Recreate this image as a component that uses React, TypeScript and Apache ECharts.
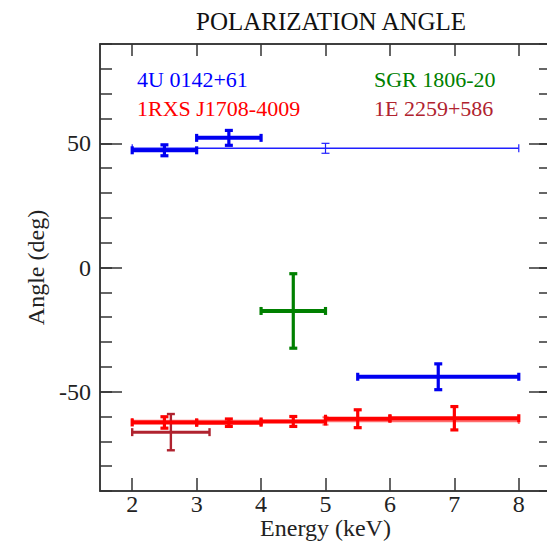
import React, { useEffect, useRef } from 'react';
import * as echarts from 'echarts';

const TITLE = 'POLARIZATION ANGLE';
const X_NAME = 'Energy (keV)';
const Y_NAME = 'Angle (deg)';
const X_TICKS = [2, 3, 4, 5, 6, 7, 8];
const Y_MAJOR = [-50, 0, 50];

// rows: [xLow, xHigh, xCenter, angle, angleError]
const NAME_4U = '4U 0142+61';
const BINS_4U = [
  [2, 3, 2.5, 47.2, 2.2],
  [3, 4, 3.5, 52.2, 3.0],
  [5.5, 8, 6.75, -44.0, 5.2],
];
const WIDE_4U = [[2, 8, 5, 48.0, 2.0]];

const NAME_1RXS = '1RXS J1708-4009';
const BINS_1RXS = [
  [2, 3, 2.5, -62.4, 2.3],
  [3, 4, 3.5, -62.5, 1.5],
  [4, 5, 4.5, -62.0, 2.0],
  [5, 6, 5.5, -60.9, 3.6],
  [6, 8, 7, -60.7, 4.7],
];
const WIDE_1RXS = [[2, 8, 5, -61.8, 1.5]];

const NAME_SGR = 'SGR 1806-20';
const BINS_SGR = [[4, 5, 4.5, -17.5, 15.0]];

const NAME_1E = '1E 2259+586';
const BINS_1E = [[2, 3.2, 2.6, -66.3, 7.3]];

const FONT = '"Liberation Serif", "DejaVu Serif", serif';

function errSeries(name: string, data: number[][], color: string, lw: number, cap: number, z: number, opacity = 1) {
  return {
    type: 'custom',
    name,
    z,
    xAxisIndex: 0,
    yAxisIndex: 0,
    data,
    encode: { x: [0, 1, 2], y: [3] },
    renderItem: (params: any, api: any) => {
      const xl = api.value(0), xh = api.value(1), xc = api.value(2), y = api.value(3), e = api.value(4);
      const pL = api.coord([xl, y]);
      const pR = api.coord([xh, y]);
      const pT = api.coord([xc, y + e]);
      const pB = api.coord([xc, y - e]);
      const st = { stroke: color, lineWidth: lw, opacity };
      const capSt = { stroke: color, lineWidth: Math.max(lw * 0.8, 1.2), opacity };
      const ln = (x1: number, y1: number, x2: number, y2: number, s: any) => ({ type: 'line', shape: { x1, y1, x2, y2 }, style: s });
      return {
        type: 'group',
        children: [
          ln(pL[0], pL[1], pR[0], pR[1], st),
          ln(pT[0], pT[1], pB[0], pB[1], { ...st, lineWidth: Math.max(lw * 0.8, 1.2) }),
          ln(pL[0], pL[1] - cap, pL[0], pL[1] + cap, capSt),
          ln(pR[0], pR[1] - cap, pR[0], pR[1] + cap, capSt),
          ln(pT[0] - cap, pT[1], pT[0] + cap, pT[1], capSt),
          ln(pB[0] - cap, pB[1], pB[0] + cap, pB[1], capSt),
        ],
      };
    },
  };
}

export default function App() {
  const ref = useRef<HTMLDivElement>(null);
  useEffect(() => {
    if (!ref.current) return;
    const chart = echarts.init(ref.current, null, { renderer: 'svg' });
    const minorY = (pos: string) => ({
      type: 'value', position: pos, min: -90, max: 90, interval: 10,
      axisLine: { show: true, onZero: false, lineStyle: { color: '#333', width: 1.5 } },
      axisTick: { show: true, inside: true, length: 12, lineStyle: { color: '#333', width: 1.5 } },
      axisLabel: { show: false },
      splitLine: { show: false },
    });
    const majorY = (pos: string, labels: boolean) => ({
      type: 'value', position: pos, min: -90, max: 90,
      axisLine: { show: false, onZero: false },
      axisTick: { show: true, inside: true, length: 22, customValues: Y_MAJOR, lineStyle: { color: '#333', width: 1.5 } },
      axisLabel: { show: labels, customValues: Y_MAJOR, margin: 9, fontSize: 24, fontFamily: FONT, color: '#222' },
      splitLine: { show: false },
      ...(labels ? { name: Y_NAME, nameLocation: 'middle', nameGap: 52, nameMoveOverlap: false, nameTextStyle: { fontSize: 24, fontFamily: FONT, color: '#222' } } : {}),
    });
    chart.setOption({
      animation: false,
      backgroundColor: '#fff',
      title: {
        text: TITLE, left: 191, top: 4,
        textStyle: { fontSize: 25, fontWeight: 'normal', fontFamily: FONT, color: '#111' },
      },
      grid: {
        left: 100, top: 44, right: -4, bottom: 50, show: true, borderColor: '#333', borderWidth: 1.5,
        containLabel: false, outerBoundsMode: 'none',
      },
      xAxis: [
        {
          type: 'value', position: 'bottom', min: 1.5, max: 8.5,
          axisLine: { show: true, onZero: false, lineStyle: { color: '#333', width: 1.5 } },
          axisTick: { show: true, inside: true, length: 13, customValues: X_TICKS, lineStyle: { color: '#333', width: 1.5 } },
          axisLabel: { customValues: X_TICKS, margin: 1, fontSize: 24, fontFamily: FONT, color: '#222' },
          splitLine: { show: false },
          name: X_NAME, nameLocation: 'middle', nameGap: 25, nameMoveOverlap: false,
          nameTextStyle: { fontSize: 24, fontFamily: FONT, color: '#222' },
        },
        {
          type: 'value', position: 'top', min: 1.5, max: 8.5,
          axisLine: { show: true, onZero: false, lineStyle: { color: '#333', width: 1.5 } },
          axisTick: { show: true, inside: true, length: 12, customValues: X_TICKS, lineStyle: { color: '#333', width: 1.5 } },
          axisLabel: { show: false },
          splitLine: { show: false },
        },
      ],
      yAxis: [minorY('left'), majorY('left', true), minorY('right'), majorY('right', false)],
      graphic: [
        { type: 'text', left: 137, top: 68, style: { text: NAME_4U, fontSize: 22, fontFamily: FONT, fill: '#0000ff' } },
        { type: 'text', left: 137, top: 97, style: { text: NAME_1RXS, fontSize: 22, fontFamily: FONT, fill: '#ff0000' } },
        { type: 'text', left: 374, top: 68, style: { text: NAME_SGR, fontSize: 22, fontFamily: FONT, fill: '#008000' } },
        { type: 'text', left: 374, top: 97, style: { text: NAME_1E, fontSize: 22, fontFamily: FONT, fill: '#b0232f' } },
      ],
      series: [
        errSeries(NAME_4U + ' wide', WIDE_4U, '#2020ff', 1.5, 4, 5),
        errSeries(NAME_4U, BINS_4U, '#0000f0', 4, 4, 6),
        errSeries(NAME_1RXS + ' wide', WIDE_1RXS, '#ff3030', 2.5, 3, 5, 0.7),
        errSeries(NAME_1E, BINS_1E, '#b0232f', 3, 4, 6),
        errSeries(NAME_1RXS, BINS_1RXS, '#ff0000', 4, 4, 7),
        errSeries(NAME_SGR, BINS_SGR, '#008000', 4, 4, 6),
      ],
    });
    return () => chart.dispose();
  }, []);
  return <div ref={ref} style={{ position: 'fixed', left: 0, top: 0, width: 547, height: 541 }} />;
}
